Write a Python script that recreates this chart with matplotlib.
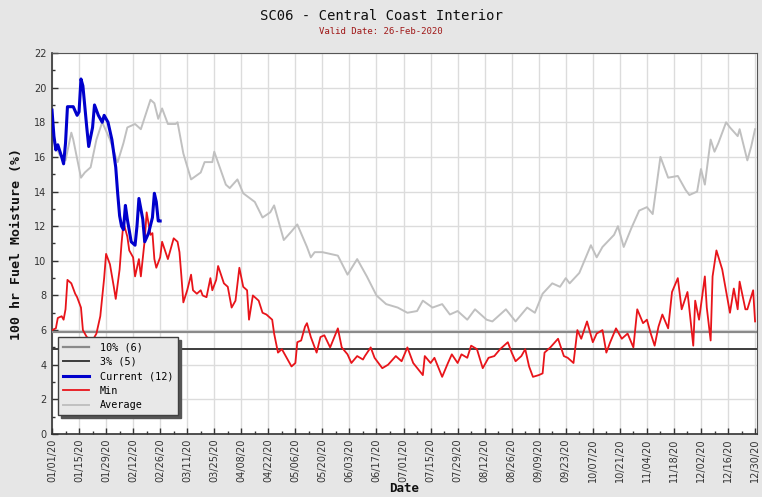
import numpy as np
import matplotlib
matplotlib.use("Agg")
import matplotlib.pyplot as plt
import matplotlib.dates as mdates
from matplotlib.ticker import MultipleLocator

# ---- data (day offsets from 2020-01-01, values in %) ----
avg_days = [0, 2, 4, 7, 10, 11, 15, 17, 20, 23, 26, 30, 33, 34, 37, 39, 43, 46, 51, 53, 55, 57, 60, 64, 65,
            68, 72, 77, 79, 83, 84, 90, 92, 96, 99, 105, 109, 113, 115, 120, 124, 127, 132, 134, 136, 140,
            148, 153, 158, 163, 168, 173, 179, 184, 189, 192, 197, 202, 206, 210, 215, 219, 225, 228, 235,
            240, 246, 250, 254, 259, 263, 266, 268, 273, 279, 282, 285, 291, 293, 296, 300, 304, 308, 311,
            315, 319, 324, 328, 330, 334, 336, 338, 341, 343, 345, 349, 351, 355, 356, 360, 362, 364]
avg_vals = [17.1, 16.6, 16.1, 15.8, 17.4, 17.0, 14.8, 15.1, 15.4, 17.0, 18.0, 17.0, 16.0, 15.7, 16.8, 17.7,
            17.9, 17.6, 19.3, 19.1, 18.2, 18.8, 17.9, 17.9, 18.0, 16.2, 14.7, 15.1, 15.7, 15.7, 16.3, 14.4,
            14.2, 14.7, 13.9, 13.4, 12.5, 12.8, 13.2, 11.2, 11.7, 12.1, 10.8, 10.2, 10.5, 10.5, 10.3, 9.2,
            10.1, 9.1, 8.0, 7.5, 7.3, 7.0, 7.1, 7.7, 7.3, 7.5, 6.9, 7.1, 6.6, 7.2, 6.6, 6.5, 7.2, 6.5, 7.3,
            7.0, 8.1, 8.7, 8.5, 9.0, 8.7, 9.3, 10.9, 10.2, 10.8, 11.5, 12.0, 10.8, 11.9, 12.9, 13.1, 12.7,
            16.0, 14.8, 14.9, 14.1, 13.8, 14.0, 15.3, 14.4, 17.0, 16.3, 16.8, 18.0, 17.7, 17.2, 17.6, 15.8,
            16.6, 17.6]

min_days = [0, 2, 3, 5, 6, 7, 8, 10, 12, 13, 15, 16, 18, 21, 23, 25, 27, 28, 30, 32, 33, 35, 36, 37, 39,
            40, 42, 43, 45, 46, 48, 49, 51, 52, 53, 54, 56, 57, 60, 61, 63, 65, 66, 67, 68, 70, 72, 73, 75,
            77, 78, 80, 82, 83, 85, 86, 89, 91, 93, 95, 97, 99, 101, 102, 104, 107, 109, 111, 114, 115,
            117, 119, 122, 124, 126, 127, 129, 131, 132, 134, 135, 137, 139, 141, 144, 148, 150, 153, 155,
            158, 161, 162, 165, 167, 171, 174, 178, 181, 184, 187, 192, 193, 196, 198, 202, 205, 207, 210,
            212, 215, 217, 220, 223, 226, 229, 232, 236, 238, 240, 243, 245, 247, 249, 252, 254, 255, 258,
            262, 265, 267, 270, 272, 274, 277, 280, 282, 285, 287, 289, 292, 295, 298, 301, 303, 306, 308,
            310, 312, 314, 316, 319, 321, 324, 326, 329, 330, 332, 333, 335, 338, 339, 341, 342, 344, 347,
            351, 353, 355, 356, 359, 360, 363, 364]
min_vals = [6.0, 6.1, 6.7, 6.8, 6.6, 7.2, 8.9, 8.7, 8.1, 7.9, 7.3, 6.0, 5.6, 5.4, 5.8, 6.8, 9.0, 10.4,
            9.8, 8.5, 7.8, 9.5, 11.0, 12.2, 11.4, 10.6, 10.2, 9.1, 10.1, 9.1, 11.2, 12.8, 11.5, 11.6, 10.1,
            9.6, 10.2, 11.1, 10.1, 10.5, 11.3, 11.1, 10.5, 9.1, 7.6, 8.3, 9.2, 8.3, 8.1, 8.3, 8.0, 7.9, 9.0,
            8.3, 8.9, 9.7, 8.7, 8.5, 7.3, 7.7, 9.6, 8.5, 8.3, 6.6, 8.0, 7.7, 7.0, 6.9, 6.6, 5.8, 4.7, 4.9,
            4.3, 3.9, 4.1, 5.3, 5.4, 6.2, 6.4, 5.6, 5.3, 4.7, 5.6, 5.7, 5.0, 6.1, 5.0, 4.6, 4.1, 4.5, 4.3,
            4.5, 5.0, 4.4, 3.8, 4.0, 4.5, 4.2, 5.0, 4.1, 3.4, 4.5, 4.1, 4.4, 3.3, 4.1, 4.6, 4.1, 4.6, 4.4,
            5.1, 4.9, 3.8, 4.4, 4.5, 4.9, 5.3, 4.7, 4.2, 4.5, 4.9, 3.9, 3.3, 3.4, 3.5, 4.7, 5.0, 5.5, 4.5,
            4.4, 4.1, 6.0, 5.5, 6.5, 5.3, 5.8, 6.0, 4.7, 5.3, 6.1, 5.5, 5.8, 5.0, 7.2, 6.4, 6.6, 5.8, 5.1,
            6.2, 6.9, 6.1, 8.2, 9.0, 7.2, 8.2, 7.2, 5.1, 7.7, 6.6, 9.1, 7.3, 5.4, 9.1, 10.6, 9.5, 7.0, 8.4,
            7.2, 8.8, 7.2, 7.2, 8.3, 6.5]

cur_days = [0, 1, 2, 3, 5, 6, 7, 8, 11, 13, 14, 15, 16, 18, 19, 21, 22, 24, 26, 27, 29, 31, 33, 34, 35,
            36, 37, 38, 39, 41, 43, 44, 45, 47, 48, 50, 52, 53, 54, 55, 56]
cur_vals = [18.7, 17.2, 16.4, 16.7, 16.0, 15.6, 16.8, 18.9, 18.9, 18.4, 18.6, 20.5, 20.1, 17.7, 16.6,
            17.7, 19.0, 18.4, 18.0, 18.4, 18.0, 17.0, 15.4, 13.9, 12.6, 12.0, 11.8, 13.2, 12.4, 11.1, 10.9,
            12.0, 13.6, 12.4, 11.1, 11.6, 12.5, 13.9, 13.4, 12.3, 12.3]

p10_value = 5.9
p03_value = 4.9
labels = ["10% (6)", "3% (5)", "Current (12)", "Min", "Average"]

start = np.datetime64("2020-01-01")


def to_dates(days):
    return start + np.array(days).astype("timedelta64[D]")


mono = "DejaVu Sans Mono"
fig = plt.figure(figsize=(7.62, 4.97), dpi=100, facecolor="#e6e6e6")
ax = fig.add_axes([52 / 762, 1 - 434 / 497, 705 / 762, 381 / 497])
ax.set_facecolor("white")

h10 = ax.axhline(p10_value, color="#8a8a8a", lw=1.6, zorder=3)
h03 = ax.axhline(p03_value, color="#3c3c3c", lw=1.4, zorder=3)
ha, = ax.plot(to_dates(avg_days), avg_vals, color="#c0c0c0", lw=1.4, zorder=2)
hm, = ax.plot(to_dates(min_days), min_vals, color="#e8141a", lw=1.3, zorder=4)
hc, = ax.plot(to_dates(cur_days), cur_vals, color="#0000cc", lw=2.2, zorder=5)

ax.set_xlim(start, start + np.timedelta64(365, "D"))
ax.set_ylim(0, 22)

ticks = start + np.arange(0, 365, 14).astype("timedelta64[D]")
ax.set_xticks(ticks)
ax.xaxis.set_major_formatter(mdates.DateFormatter("%m/%d/%y"))
minor = start + np.arange(7, 365, 14).astype("timedelta64[D]")
ax.set_xticks(minor, minor=True)
ax.yaxis.set_major_locator(MultipleLocator(2))
ax.yaxis.set_minor_locator(MultipleLocator(1))

ax.tick_params(axis="x", which="major", direction="in", length=4, width=1, labelsize=7,
               labelrotation=90, labelcolor="#333333", color="#333333", pad=3)
ax.tick_params(axis="x", which="minor", direction="in", length=2, width=1, color="#333333")
ax.tick_params(axis="y", which="major", direction="in", length=4, width=1, labelsize=7,
               labelcolor="#333333", color="#333333", pad=4)
ax.tick_params(axis="y", which="minor", direction="in", length=2, width=1, color="#333333")

ax.grid(True, which="major", color="#dcdcdc", lw=1, zorder=0)
ax.set_axisbelow(True)
for s in ["left", "bottom"]:
    ax.spines[s].set_color("#333333")
    ax.spines[s].set_linewidth(1.2)
for s in ["top", "right"]:
    ax.spines[s].set_color("#555555")
    ax.spines[s].set_linewidth(0.8)

ax.set_ylabel("100 hr Fuel Moisture (%)", family=mono, fontweight="bold", fontsize=9.5,
              color="#111111", labelpad=8)
ax.set_xlabel("Date", family=mono, fontweight="bold", fontsize=9, color="#111111", labelpad=0)

fig.text(0.5, 1 - 16 / 497, "SC06 - Central Coast Interior", ha="center", va="center",
         family=mono, fontsize=10, color="#111111")
fig.text(0.5, 1 - 32 / 497, "Valid Date: 26-Feb-2020", ha="center", va="center",
         family=mono, fontsize=6.5, color="#a01818")

leg = ax.legend([h10, h03, hc, hm, ha], labels, loc="upper left",
                bbox_to_anchor=((58 - 52) / 705, (434 - 337) / 381),
                prop={"family": mono, "size": 7.3}, fancybox=False, framealpha=1,
                facecolor="#e8e8e8", edgecolor="#404040", borderpad=0.5, labelspacing=0.45,
                handlelength=2.6, handletextpad=1.0, borderaxespad=0,
                shadow={"color": "#555555", "alpha": 1, "ox": 2, "oy": -2})
leg.set_zorder(10)
leg.get_frame().set_linewidth(1.0)

fig.savefig("out.png", dpi=100, facecolor=fig.get_facecolor())
